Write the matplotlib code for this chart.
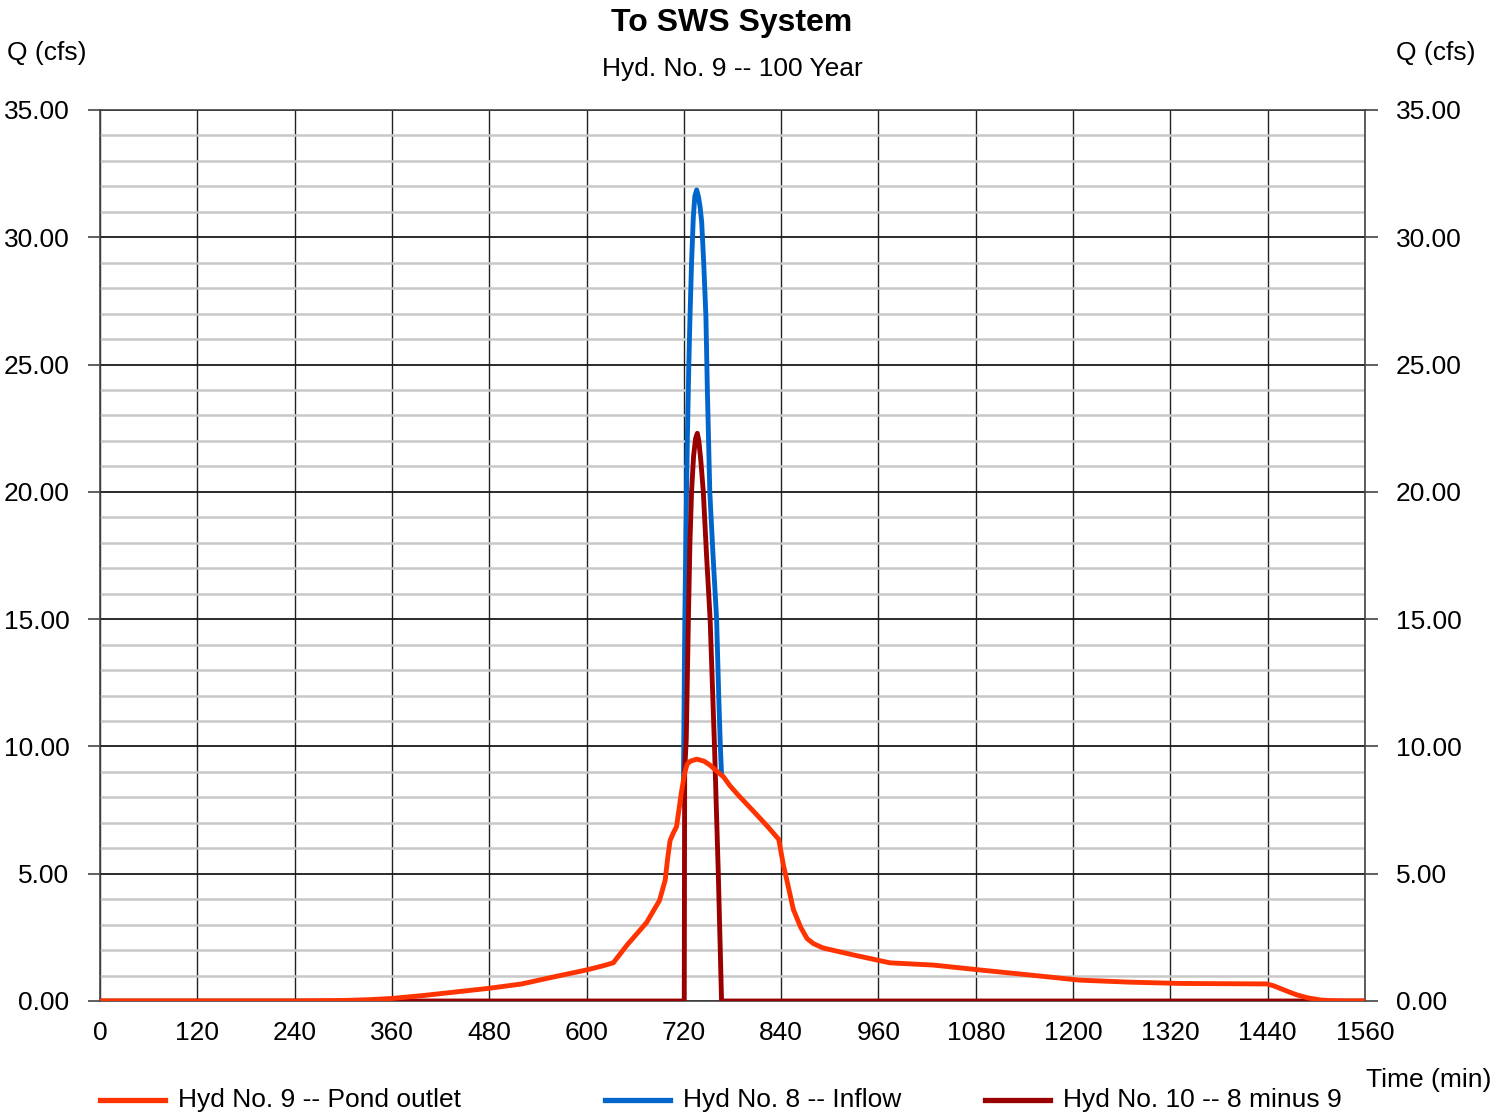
import matplotlib
matplotlib.use("Agg")
import matplotlib.pyplot as plt
from matplotlib.lines import Line2D
from matplotlib.ticker import MultipleLocator, FormatStrFormatter

plt.rcParams["font.family"] = ["Liberation Sans", "DejaVu Sans"]

# Hyd No. 9 -- Pond outlet (time in min, Q in cfs)
outlet_t = [0, 240, 300, 330, 360, 400, 440, 480, 520, 560, 600, 620, 633,
            650, 674, 690, 697, 700, 703, 707, 711, 717, 721, 724, 728, 736,
            745, 752, 760, 769, 777, 787, 806, 822, 837, 843, 847, 855, 864,
            872, 880, 892, 929, 974, 1028, 1085, 1147, 1208, 1270, 1332, 1439,
            1447, 1455, 1466, 1476, 1490, 1505, 1520, 1537, 1560]
outlet_q = [0, 0, 0.02, 0.05, 0.1, 0.22, 0.36, 0.5, 0.67, 0.95, 1.22, 1.38, 1.5,
            2.2, 3.08, 3.95, 4.75, 5.6, 6.3, 6.6, 6.85, 8.2, 8.95, 9.3, 9.42, 9.5,
            9.42, 9.27, 9.05, 8.8, 8.45, 8.09, 7.45, 6.9, 6.35, 5.3, 4.75, 3.6, 2.9,
            2.45, 2.25, 2.08, 1.81, 1.5, 1.41, 1.22, 1.02, 0.82, 0.74, 0.69, 0.67,
            0.6, 0.5, 0.36, 0.24, 0.12, 0.04, 0.01, 0, 0]

# Hyd No. 8 -- Inflow (visible part above the outlet curve)
inflow_t = [719.5, 721.2, 723.3, 724.3, 726, 727.6, 729.5, 731.7, 733.5, 735.8,
            738, 740, 742, 744.5, 747.2, 749, 750.5, 752, 756, 760.4, 763, 765, 766.5]
inflow_q = [8.6, 15, 20, 22, 24.8, 26.9, 29, 30.8, 31.6, 31.86,
            31.6, 31.2, 30.6, 29, 26.9, 24, 22, 20, 17.5, 15, 12, 10, 8.9]

# Hyd No. 10 -- 8 minus 9
diff_t = [0, 720.5, 721, 723, 725.6, 727.5, 729.5, 732, 734.5, 736.6, 738.5,
          741, 744, 748, 752.4, 757.8, 762.5, 766.5, 1560]
diff_q = [0, 0, 9.0, 10.3, 15, 18, 20, 21.4, 22.1, 22.3, 22,
          21.2, 20, 17.5, 15, 10, 5, 0, 0]

x_max = 1560
y_max = 35

W, H = 1507, 1112
fig = plt.figure(figsize=(W / 100, H / 100), dpi=100)
ax = fig.add_axes([100 / W, 111 / H, 1265 / W, 891 / H])

ax.plot(inflow_t, inflow_q, color="#0066CC", lw=3.5, zorder=3, solid_capstyle="round")
ax.plot(diff_t, diff_q, color="#990000", lw=3.5, zorder=4, solid_joinstyle="round")
ax.plot(outlet_t, outlet_q, color="#FF3300", lw=3.5, zorder=5, solid_joinstyle="round")

ax.set_xlim(0, x_max)
ax.set_ylim(0, y_max)
ax.xaxis.set_major_locator(MultipleLocator(120))
ax.yaxis.set_major_locator(MultipleLocator(5))
ax.yaxis.set_minor_locator(MultipleLocator(1))
ax.yaxis.set_major_formatter(FormatStrFormatter("%.2f"))

ax.set_axisbelow(True)
ax.grid(which="minor", axis="y", color="#C8C8C8", lw=1.8)
ax.grid(which="major", axis="y", color="#1A1A1A", lw=1.3)
ax.grid(which="major", axis="x", color="#222222", lw=1.0)

for s in ax.spines.values():
    s.set_color("#444444")
    s.set_linewidth(1.2)

ax.tick_params(axis="y", which="major", direction="out", length=9, width=1.2,
               color="#444444", labelsize=19, pad=13,
               left=True, right=True, labelleft=True, labelright=True)
ax.tick_params(axis="y", which="minor", length=0)
ax.tick_params(axis="x", length=0, labelsize=19, pad=14.5)

# titles and axis captions
fig.text(732 / W, 1 - 23 / H, "To SWS System", ha="center", va="center",
         fontsize=23, fontweight="bold")
fig.text(732 / W, 1 - 69 / H, "Hyd. No. 9 -- 100 Year", ha="center", va="center",
         fontsize=19)
fig.text(7 / W, 1 - 53 / H, "Q (cfs)", ha="left", va="center", fontsize=19)
fig.text(1475 / W, 1 - 53 / H, "Q (cfs)", ha="right", va="center", fontsize=19)
fig.text(1491 / W, 1 - 1080 / H, "Time (min)", ha="right", va="center", fontsize=19)


def legend_item(x0, label, color):
    y = 1 - 1100 / H
    fig.add_artist(Line2D([x0 / W, (x0 + 65) / W], [y, y], color=color, lw=3.8,
                          transform=fig.transFigure))
    fig.text((x0 + 78) / W, y, label, ha="left", va="center", fontsize=19)


legend_item(100, "Hyd No. 9 -- Pond outlet", "#FF3300")
legend_item(605, "Hyd No. 8 -- Inflow", "#0066CC")
legend_item(985, "Hyd No. 10 -- 8 minus 9", "#990000")

fig.savefig("out.png", dpi=100)
